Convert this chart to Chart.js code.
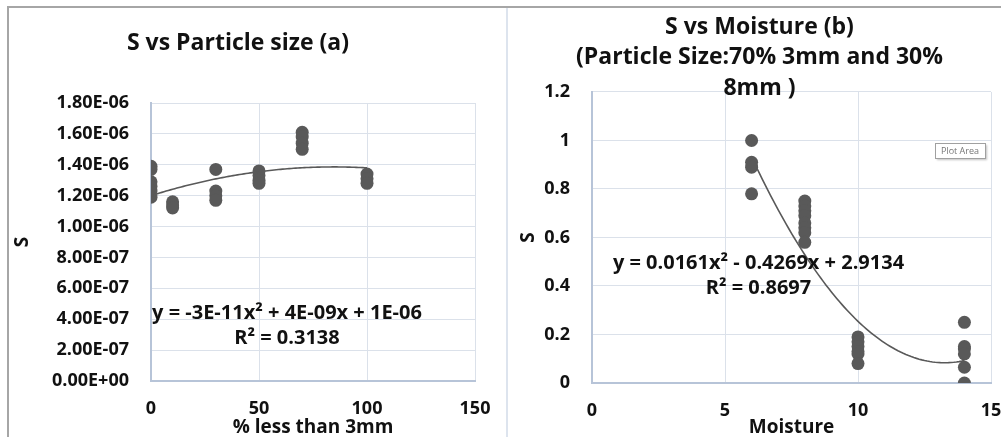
<!DOCTYPE html>
<html lang="en">
<head>
<meta charset="UTF-8">
<script src="https://cdn.jsdelivr.net/npm/chart.js"></script>
<style>
    body {
        margin: 0;
        background: #fff;
        font-family: "Open Sans", sans-serif;
    }

    .frame {
        position: absolute;
        left: 7px;
        top: 6px;
        width: 994px;
        height: 431px;
        border-left: 2px solid #a6a6a6;
        border-top: 2px solid #a6a6a6;
    }

    .divider {
        position: absolute;
        left: 506px;
        top: 8px;
        width: 2px;
        height: 429px;
        background: #dde4ee;
    }

    .panel {
        position: absolute;
        top: 0;
        height: 437px;
    }

    #left {
        left: 0;
        width: 500px;
    }

    #right {
        left: 500px;
        width: 501px;
    }
</style>
</head>
<body>
<div class="frame"></div>
<div class="divider"></div>
<div class="panel" id="left"><canvas id="chartA"></canvas></div>
<div class="panel" id="right"><canvas id="chartB"></canvas></div>

<script>
    // (a) S vs % less than 3mm
    const sizeX = [0, 0, 0, 0, 0, 0, 10, 10, 10, 30, 30, 30, 30, 50, 50, 50, 50, 70, 70, 70, 70, 100, 100, 100];
    const sizeS = [1.39e-6, 1.37e-6, 1.29e-6, 1.26e-6, 1.23e-6, 1.19e-6,
        1.16e-6, 1.14e-6, 1.12e-6,
        1.37e-6, 1.23e-6, 1.20e-6, 1.17e-6,
        1.36e-6, 1.33e-6, 1.30e-6, 1.28e-6,
        1.61e-6, 1.58e-6, 1.54e-6, 1.50e-6,
        1.34e-6, 1.31e-6, 1.28e-6];
    // trendline coefficients [a, b, c]
    const sizeFit = [-2.6e-11, 4.4e-9, 1.2e-6];
    const sizeFitRange = [0, 100];

    // (b) S vs Moisture
    const moistX = [6, 6, 6, 6, 8, 8, 8, 8, 8, 8, 8, 8, 10, 10, 10, 10, 10, 10, 14, 14, 14, 14, 14, 14];
    const moistS = [1.0, 0.91, 0.89, 0.78,
        0.75, 0.73, 0.71, 0.69, 0.66, 0.64, 0.62, 0.58,
        0.19, 0.17, 0.15, 0.13, 0.12, 0.08,
        0.25, 0.15, 0.14, 0.12, 0.065, 0];
    const moistFit = [0.0161, -0.4269, 2.9134];
    const moistFitRange = [6, 14];

    const gridColor = '#dbe1ea';
    const axisColor = '#b7c4d8';
    const markColor = '#595959';

    Chart.defaults.font.family = '"Open Sans", sans-serif';
    Chart.defaults.font.weight = 'bold';
    Chart.defaults.color = '#111';

    function toPoints(xs, ys) {
        return xs.map((x, i) => ({ x: x, y: ys[i] }));
    }

    function curve(coef, range, step) {
        const pts = [];
        for (let x = range[0]; x <= range[1] + 1e-9; x += step) {
            pts.push({ x: x, y: coef[0] * x * x + coef[1] * x + coef[2] });
        }
        return pts;
    }

    function sciLabel(v) {
        if (v === 0) return '0.00E+00';
        let e = Math.floor(Math.log10(Math.abs(v)) + 1e-9);
        let m = v / Math.pow(10, e);
        const sign = e < 0 ? '-' : '+';
        const ee = String(Math.abs(e)).padStart(2, '0');
        return m.toFixed(2) + 'E' + sign + ee;
    }

    // equation text + "Plot Area" tag
    const notes = {
        id: 'notes',
        afterDatasetsDraw(chart, args, opts) {
            const ctx = chart.ctx;
            ctx.save();
            ctx.fillStyle = '#111';
            ctx.textAlign = 'center';
            ctx.textBaseline = 'middle';
            ctx.font = 'bold 20px "Open Sans", sans-serif';
            opts.lines.forEach(l => ctx.fillText(l.text, l.x, l.y));
            if (opts.tag) {
                const t = opts.tag;
                ctx.shadowColor = 'rgba(0,0,0,0.25)';
                ctx.shadowOffsetX = 2;
                ctx.shadowOffsetY = 2;
                ctx.shadowBlur = 2;
                ctx.fillStyle = '#fff';
                ctx.fillRect(t.x, t.y, 50, 15);
                ctx.shadowColor = 'transparent';
                ctx.strokeStyle = '#a0a0a0';
                ctx.lineWidth = 1;
                ctx.strokeRect(t.x + 0.5, t.y + 0.5, 50, 15);
                ctx.fillStyle = '#777';
                ctx.font = '9px "Open Sans", sans-serif';
                ctx.fillText('Plot Area', t.x + 25, t.y + 8);
            }
            ctx.restore();
        }
    };

    function makeChart(id, cfg) {
        return new Chart(document.getElementById(id), {
            type: 'scatter',
            data: {
                datasets: [{
                    data: cfg.points,
                    backgroundColor: markColor,
                    borderWidth: 0,
                    pointRadius: 6.5,
                    order: 2
                }, {
                    type: 'line',
                    data: cfg.trend,
                    borderColor: markColor,
                    borderWidth: 1.6,
                    pointRadius: 0,
                    fill: false,
                    tension: 0,
                    order: 1
                }]
            },
            options: {
                responsive: true,
                maintainAspectRatio: false,
                animation: false,
                events: [],
                layout: { padding: cfg.padding },
                plugins: {
                    legend: { display: false },
                    tooltip: { enabled: false },
                    title: {
                        display: true,
                        text: cfg.title,
                        color: '#111',
                        font: { size: 23, weight: 'bold', lineHeight: cfg.titleLH },
                        padding: cfg.titlePad
                    },
                    notes: { lines: cfg.lines, tag: cfg.tag }
                },
                scales: {
                    x: {
                        type: 'linear',
                        min: cfg.xMin,
                        max: cfg.xMax,
                        afterFit: s => {
                            s.height = cfg.xAxisH;
                            s.paddingLeft = 0;
                            s.paddingRight = 0;
                        },
                        ticks: { stepSize: cfg.xStep, padding: 17.5, font: { size: 18 } },
                        grid: { color: gridColor, drawTicks: false },
                        border: { color: axisColor, width: 2 },
                        title: {
                            display: true,
                            text: cfg.xTitle,
                            font: { size: 19, lineHeight: 1 },
                            padding: 0
                        }
                    },
                    y: {
                        min: 0,
                        max: cfg.yMax,
                        afterFit: s => { s.width = cfg.yAxisW; },
                        ticks: { stepSize: cfg.yStep, padding: 22, font: { size: 18 }, callback: cfg.yFmt },
                        grid: { color: gridColor, drawTicks: false },
                        border: { color: axisColor, width: 2 },
                        title: {
                            display: true,
                            text: 'S',
                            font: { size: 19, lineHeight: 1 },
                            padding: cfg.yTitlePad
                        }
                    }
                }
            },
            plugins: [notes]
        });
    }

    makeChart('chartA', {
        points: toPoints(sizeX, sizeS),
        trend: curve(sizeFit, sizeFitRange, 1),
        title: 'S vs Particle size (a)',
        titleLH: 1.2,
        titlePad: { top: 29.2, bottom: 46.2 },
        padding: { left: 1, right: 25, top: 0, bottom: 0 },
        xMin: 0, xMax: 150, xStep: 50,
        yMax: 1.8e-6, yStep: 0.2e-6,
        yFmt: v => sciLabel(v),
        xAxisH: 56, yAxisW: 150,
        xTitle: '% less than 3mm',
        yTitlePad: { top: 12 },
        lines: [
            { text: 'y = -3E-11x² + 4E-09x + 1E-06', x: 287, y: 313 },
            { text: 'R² = 0.3138', x: 287, y: 338 }
        ]
    });

    makeChart('chartB', {
        points: toPoints(moistX, moistS),
        trend: curve(moistFit, moistFitRange, 0.1),
        title: ['S vs Moisture (b)', '(Particle Size:70% 3mm and 30%', '8mm )'],
        titleLH: 1.33,
        titlePad: { top: 12, bottom: -11.8 },
        padding: { left: 28, right: 10, top: 0, bottom: 0 },
        xMin: 0, xMax: 15, xStep: 5,
        yMax: 1.2, yStep: 0.2,
        yFmt: v => String(Number(v.toFixed(1))),
        xAxisH: 54, yAxisW: 64,
        xTitle: 'Moisture',
        yTitlePad: { top: -9 },
        lines: [
            { text: 'y = 0.0161x² - 0.4269x + 2.9134', x: 258.5, y: 263 },
            { text: 'R² = 0.8697', x: 258.5, y: 288 }
        ],
        tag: { x: 435, y: 143 }
    });
</script>
</body>
</html>
